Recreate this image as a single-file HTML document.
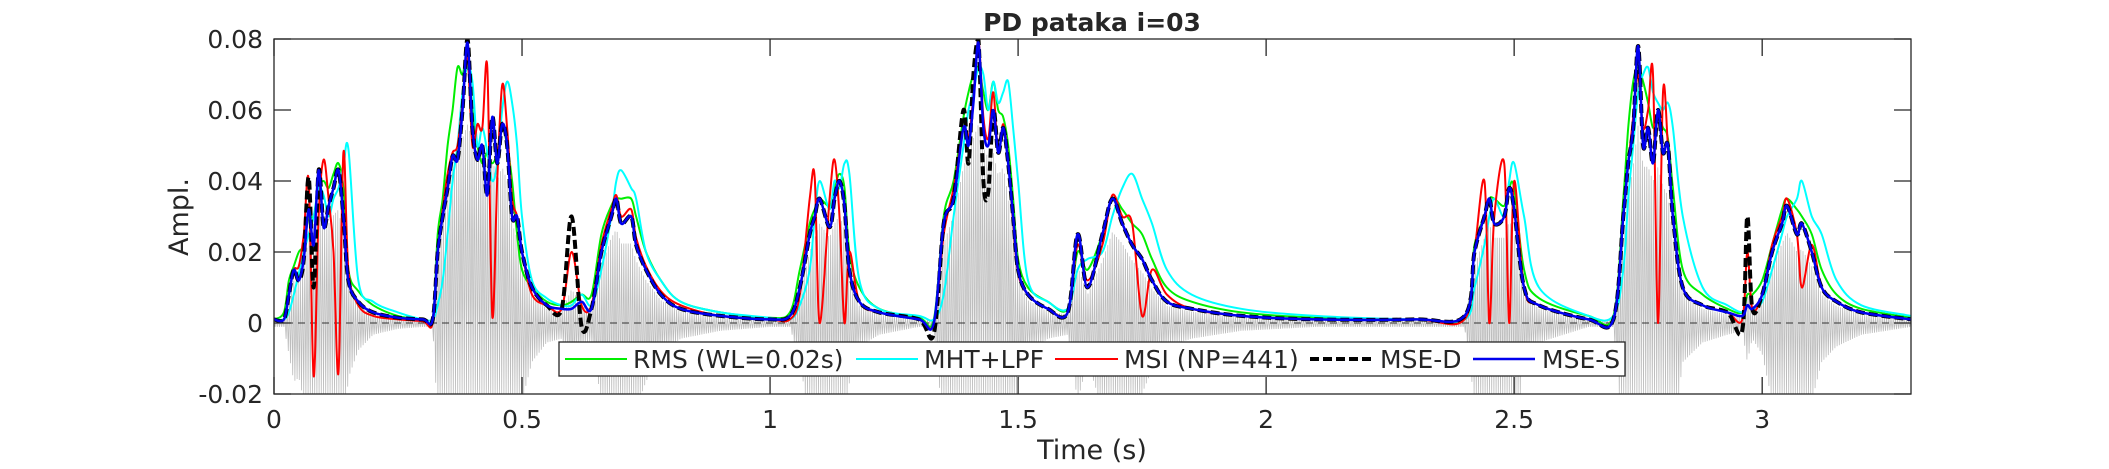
<!DOCTYPE html>
<html><head><meta charset="utf-8"><style>
html,body{margin:0;padding:0;background:#fff;width:2109px;height:469px;overflow:hidden;position:relative;}
svg{display:block;}
svg text{font-family:"DejaVu Sans","Liberation Sans",sans-serif;fill:#262626;}
</style></head><body>
<svg id="chart" style="position:absolute;left:0;top:0" width="2109" height="469" viewBox="0 0 2109 469" xmlns="http://www.w3.org/2000/svg">
<defs><clipPath id="clip"><rect x="274" y="39" width="1637" height="355"/></clipPath></defs>
<rect x="0" y="0" width="2109" height="469" fill="#fff"/>
<g id="plot" clip-path="url(#clip)"></g>
<g id="axes"></g>
</svg>
<script>
const T=[0,.02,.03,.04,.05,.06,.07,.08,.09,.10,.11,.12,.13,.14,.15,.17,.20,.25,.30,.32,
.33,.34,.35,.36,.37,.38,.39,.40,.41,.42,.43,.44,.45,.46,.47,.48,.49,.50,.52,.55,
.58,.60,.62,.64,.66,.68,.69,.70,.72,.73,.75,.78,.82,.90,1.0,1.04,
1.06,1.08,1.09,1.10,1.12,1.13,1.14,1.15,1.16,1.18,1.22,1.30,1.33,
1.35,1.37,1.39,1.40,1.41,1.42,1.43,1.44,1.45,1.46,1.47,1.48,1.49,1.50,1.52,1.56,
1.60,1.62,1.64,1.67,1.69,1.71,1.73,1.75,1.77,1.80,1.85,1.95,2.1,2.3,2.40,
2.42,2.44,2.45,2.46,2.48,2.49,2.50,2.52,2.55,2.65,
2.70,2.72,2.73,2.74,2.75,2.76,2.77,2.78,2.79,2.80,
2.81,2.82,2.84,2.88,2.93,2.96,2.97,2.98,3.00,3.02,
3.04,3.05,3.07,3.08,3.10,3.12,3.15,3.20,3.30];
// values in units of 0.001
const mseS=[1,1,8,15,12,18,32,22,43,27,33,38,43,30,12,6,3,1.5,1,1,
20,30,38,47,46,60,79,55,46,50,36,58,45,56,50,30,30,20,10,5,4,4,6,4,20,30,35,28,30,22,15,8,4,2,1,2,
10,25,30,35,27,35,40,33,15,6,3,1,0,
28,35,55,50,62,79,55,50,60,48,55,45,30,15,8,4,3,25,10,25,35,28,22,18,12,6,4,2,1,1,2,
20,30,35,28,30,38,32,10,5,1,1,30,45,55,78,50,55,45,60,48,50,30,10,5,3,2,5,4,8,20,28,33,25,28,20,10,6,3,1];
const mseD=[1,1,8,15,12,18,41,10,43,27,33,38,43,30,12,6,3,1.5,1,1,
20,30,38,47,46,60,80,55,46,50,36,58,45,56,50,30,30,20,10,5,4,30,-1,4,20,30,35,28,30,22,15,8,4,2,1,2,
10,25,30,35,27,35,40,33,15,6,3,1,-3,
28,35,60,45,70,80,40,37,60,48,55,45,30,15,8,4,3,25,10,25,35,28,22,18,12,6,4,2,1,1,2,
20,30,35,28,30,38,32,10,5,1,1,30,45,55,78,50,55,45,60,48,50,30,10,5,3,-2,30,4,8,20,28,33,25,28,20,10,6,3,1];
const rms=[1,3,12,16,20,22,30,30,38,40,38,42,45,38,15,9,5,2,1,1,
25,35,50,60,72,70,75,60,50,45,48,45,48,55,50,40,25,15,10,6,5,6,8,8,25,33,35,35,35,30,20,12,6,3,1.5,3,
15,28,32,35,33,38,42,38,20,10,4,1.5,1,
30,40,58,65,70,72,65,60,68,60,58,50,35,18,10,6,4,20,15,25,35,32,28,25,18,10,6,3,1.5,1,2,
22,30,35,35,33,38,38,15,7,2,2,35,55,68,72,68,62,55,58,55,52,38,15,8,4,3,8,8,12,22,32,35,32,30,25,15,8,4,1.5];
const mht=[1,1,3,8,14,20,25,30,38,36,30,35,38,44,49,12,6,3,1,1,
5,12,25,40,50,65,72,68,50,55,48,40,45,60,68,62,50,30,12,7,5,5,8,5,15,30,40,43,38,35,20,12,6,3,1.5,1,
5,15,30,40,32,40,38,45,42,12,4,2,1,
8,30,50,60,65,72,70,60,68,62,65,68,55,40,12,6,4,15,18,20,30,38,42,35,28,15,8,4,2,1,1,
10,22,30,35,30,40,45,30,10,2,2,15,35,50,65,70,72,65,62,60,62,55,30,10,5,3,5,4,6,15,25,30,35,40,30,25,12,5,2];
const msi=[1,1,8,15,16,25,40,-15,30,46,35,20,-14,48,15,5,2,1,0.5,0,
20,32,42,48,50,62,75,50,56,55,72,2,40,67,55,35,30,20,8,5,4,20,5,5,22,32,36,30,32,24,16,9,5,2,1,1,
8,35,41,0,35,46,30,0,20,6,3,1,0,
25,38,55,52,64,80,58,52,65,48,56,46,28,14,8,4,3,22,12,22,36,30,28,2,15,8,4,2,1,1,1,
20,40,0,30,45,0,40,10,5,1,1,30,45,58,70,55,60,70,0,65,50,30,10,5,3,1,20,4,8,22,30,35,25,10,22,10,6,3,1];
const wave=[1,1,8,15,14,20,30,35,40,35,35,38,40,30,14,7,3,1.5,1,1,
25,35,45,55,60,65,70,65,60,60,55,58,50,55,50,35,30,20,10,5,4,12,6,5,20,30,33,28,28,22,15,8,4,2,1,1,
10,25,30,35,30,35,38,33,15,6,3,1,1,
28,38,55,60,65,70,62,58,60,52,55,45,30,15,8,4,3,20,10,22,32,28,22,18,12,6,4,2,1,1,1,
20,30,35,30,30,36,32,10,5,1,1,30,45,55,70,55,55,50,55,48,45,30,10,5,3,2,10,4,8,20,28,32,25,26,20,10,6,3,1];
const xTicks=[0,0.5,1,1.5,2,2.5,3];
const xTickLabels=["0","0.5","1","1.5","2","2.5","3"];
const yTicks=[-0.02,0,0.02,0.04,0.06,0.08];
const yTickLabels=["-0.02","0","0.02","0.04","0.06","0.08"];

const NS="http://www.w3.org/2000/svg";
const X0=274,X1=1911,Y0=394,Y1=39,XMAX=3.3,YMIN=-0.02,YMAX=0.08;
const xs=t=>X0+(t/XMAX)*(X1-X0);
const ys=v=>Y0-(v-YMIN)/(YMAX-YMIN)*(Y0-Y1);
const clampY=y=>Math.max(Y1,Math.min(Y0,y));
function el(tag,attrs,parent){const e=document.createElementNS(NS,tag);for(const k in attrs)e.setAttribute(k,attrs[k]);parent.appendChild(e);return e;}
const plot=document.getElementById('plot'),axes=document.getElementById('axes');
function interp(arr,t){for(let i=0;i<T.length-1;i++){if(t>=T[i]&&t<=T[i+1]){const f=(t-T[i])/(T[i+1]-T[i]);return arr[i]+(arr[i+1]-arr[i])*f;}}return arr[arr.length-1];}
let wp='';let k=0;
for(let px=X0;px<=X1;px+=1.1){const t=(px-X0)/(X1-X0)*XMAX;const a=interp(wave,t)/1000;const v=(k%2===0)?a*0.8:-a*1.1;wp+=(k?'L':'M')+px.toFixed(1)+','+clampY(ys(v)).toFixed(1);k++;}
const wv=el('path',{d:wp,fill:'none',stroke:'#bdbdbd','stroke-width':0.8},plot);


const zl=el('line',{x1:X0,x2:X1,y1:ys(0),y2:ys(0),stroke:'#333','stroke-width':1,'stroke-dasharray':'7,5'},plot);


function series(arr,color,w,dash,name){
const P=arr.map((v,i)=>[xs(T[i]),clampY(ys(v/1000))]);
let d='M'+P[0][0].toFixed(1)+','+P[0][1].toFixed(1);
for(let i=0;i<P.length-1;i++){const p0=P[Math.max(0,i-1)],p1=P[i],p2=P[i+1],p3=P[Math.min(P.length-1,i+2)];
const c1=[p1[0]+(p2[0]-p0[0])/6,clampY(p1[1]+(p2[1]-p0[1])/6)],c2=[p2[0]-(p3[0]-p1[0])/6,clampY(p2[1]-(p3[1]-p1[1])/6)];
d+='C'+c1[0].toFixed(1)+','+c1[1].toFixed(1)+' '+c2[0].toFixed(1)+','+c2[1].toFixed(1)+' '+p2[0].toFixed(1)+','+p2[1].toFixed(1);}
const p=el('path',{d:d,fill:'none',stroke:color,'stroke-width':w,'stroke-linejoin':'round'},plot);if(dash)p.setAttribute('stroke-dasharray',dash);

}
series(rms,'#00ee00',2,null,'rms-line');
series(mht,'#00ffff',2,null,'mht-lpf-line');
series(msi,'#ff0000',2,null,'msi-line');
series(mseD,'#000000',4,'9,4','mse-d-line');
series(mseS,'#0000ee',2.5,null,'mse-s-line');
const box=el('rect',{x:X0,y:Y1,width:X1-X0,height:Y0-Y1,fill:'none',stroke:'#262626','stroke-width':1.3},axes);


xTicks.forEach((t,i)=>{const x=xs(t);
el('line',{x1:x,x2:x,y1:Y0,y2:Y0-17,stroke:'#262626','stroke-width':1.3},axes);
el('line',{x1:x,x2:x,y1:Y1,y2:Y1+17,stroke:'#262626','stroke-width':1.3},axes);
const tx=el('text',{x:x,y:428,'font-size':25,'text-anchor':'middle'},axes);tx.textContent=xTickLabels[i];

});
yTicks.forEach((v,i)=>{const y=ys(v);
el('line',{x1:X0,x2:X0+17,y1:y,y2:y,stroke:'#262626','stroke-width':1.3},axes);
el('line',{x1:X1,x2:X1-17,y1:y,y2:y,stroke:'#262626','stroke-width':1.3},axes);
const tx=el('text',{x:263,y:y+9,'font-size':25,'text-anchor':'end'},axes);tx.textContent=yTickLabels[i];

});
</script>
<svg style="position:absolute;left:0;top:0" width="2109" height="469" xmlns="http://www.w3.org/2000/svg">
<text x="1092" y="31" font-size="25" font-weight="bold" text-anchor="middle" fill="#000" style="font-family:'DejaVu Sans',sans-serif">PD pataka i=03</text>
<text x="1092" y="459" font-size="27" text-anchor="middle" fill="#262626" style="font-family:'DejaVu Sans',sans-serif">Time (s)</text>
<text transform="translate(188,217) rotate(-90)" font-size="27" text-anchor="middle" fill="#262626" style="font-family:'DejaVu Sans',sans-serif">Ampl.</text>
<g style="font-family:'DejaVu Sans',sans-serif" font-size="25" fill="#000">
<rect x="559" y="342" width="1066" height="34" fill="#fff" stroke="#262626" stroke-width="1.3"/>
<line x1="565" x2="627" y1="359" y2="359" stroke="#00ee00" stroke-width="2"/>
<text x="633" y="368">RMS (WL=0.02s)</text>
<line x1="856" x2="918" y1="359" y2="359" stroke="#00ffff" stroke-width="2"/>
<text x="924" y="368">MHT+LPF</text>
<line x1="1055" x2="1118" y1="359" y2="359" stroke="#ff0000" stroke-width="2"/>
<text x="1124" y="368">MSI (NP=441)</text>
<line x1="1310" x2="1373" y1="359" y2="359" stroke="#000" stroke-width="4" stroke-dasharray="9,4"/>
<text x="1380" y="368">MSE-D</text>
<line x1="1473" x2="1535" y1="359" y2="359" stroke="#0000ee" stroke-width="2.5"/>
<text x="1542" y="368">MSE-S</text>
</g>
</svg>
</body></html>
